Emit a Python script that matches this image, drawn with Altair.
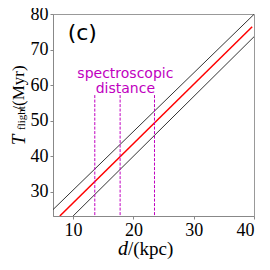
import altair as alt
import pandas as pd

# Line endpoints (d in kpc, T in Myr)
d_upper = [6.67, 40.0]
t_upper = [25.0, 79.9]
d_center = [7.8, 39.7]
t_center = [23.2, 76.4]
d_lower = [10.0, 40.0]
t_lower = [23.2, 73.6]

# Spectroscopic distance markers
spec_d = [13.6, 17.8, 23.5]
spec_top = 57.2

x_ticks = [10, 15, 20, 25, 30, 35, 40]
y_ticks = [30, 40, 50, 60, 70, 80]
x_domain = [6.67, 40]
y_domain = [23.2, 80]

black_df = pd.DataFrame({
    "d": d_upper + d_lower,
    "T": t_upper + t_lower,
    "s": ["upper"] * 2 + ["lower"] * 2,
})
red_df = pd.DataFrame({"d": d_center, "T": t_center})
spec_df = pd.DataFrame({"d": spec_d, "top": [spec_top] * 3, "bot": [y_domain[0]] * 3})
label_df = pd.DataFrame({"d": [18.67, 18.67], "T": [62.0, 57.8], "txt": ["spectroscopic", "distance"]})
panel_df = pd.DataFrame({"d": [9.1], "T": [74.6], "txt": ["(c)"]})
one = pd.DataFrame({"a": [0]})

xs = alt.Scale(domain=x_domain, nice=False, zero=False)
ys = alt.Scale(domain=y_domain, nice=False, zero=False)
xax = alt.Axis(values=x_ticks, title=None, grid=False)
yax = alt.Axis(values=y_ticks, title=None, grid=False)

black = alt.Chart(black_df).mark_line(color="#333333", strokeWidth=1, clip=True).encode(
    x=alt.X("d:Q", scale=xs, axis=xax),
    y=alt.Y("T:Q", scale=ys, axis=yax),
    detail="s:N",
)
red = alt.Chart(red_df).mark_line(color="#ff0000", strokeWidth=1.5, clip=True).encode(
    x=alt.X("d:Q", scale=xs), y=alt.Y("T:Q", scale=ys)
)
spec = alt.Chart(spec_df).mark_rule(color="#c000c0", strokeWidth=1, strokeDash=[3, 1.5]).encode(
    x=alt.X("d:Q", scale=xs), y=alt.Y("top:Q", scale=ys), y2="bot:Q"
)
labels = alt.Chart(label_df).mark_text(
    font="DejaVu Sans", fontSize=14, color="#c000c0", align="center", baseline="alphabetic"
).encode(x=alt.X("d:Q", scale=xs), y=alt.Y("T:Q", scale=ys), text="txt:N")
panel = alt.Chart(panel_df).mark_text(
    font="DejaVu Sans", fontSize=22, color="black", align="left", baseline="middle"
).encode(x=alt.X("d:Q", scale=xs), y=alt.Y("T:Q", scale=ys), text="txt:N")

serif = "Liberation Serif"
yt1 = alt.Chart(one).mark_text(text="T", font=serif, fontStyle="italic", fontSize=19, angle=270,
                               align="center", baseline="middle", color="black").encode(
    x=alt.value(-34), y=alt.value(126))
yt2 = alt.Chart(one).mark_text(text="flight", font=serif, fontSize=11, angle=270,
                               align="center", baseline="middle", color="black").encode(
    x=alt.value(-31), y=alt.value(104))
yt3 = alt.Chart(one).mark_text(text="/(Myr)", font=serif, fontSize=17, angle=270,
                               align="center", baseline="middle", color="black").encode(
    x=alt.value(-34), y=alt.value(74))
xt1 = alt.Chart(one).mark_text(text="d", font=serif, fontStyle="italic", fontSize=20,
                               align="center", baseline="middle", color="black").encode(
    x=alt.value(70), y=alt.value(235))
xt2 = alt.Chart(one).mark_text(text="/(kpc)", font=serif, fontSize=19,
                               align="left", baseline="middle", color="black").encode(
    x=alt.value(75), y=alt.value(235))

chart = alt.layer(black, red, spec, labels, panel, yt1, yt2, yt3, xt1, xt2).properties(
    width=201, height=202,
    autosize=alt.AutoSizeParams(type="none"),
    padding={"left": 45, "top": 6, "right": 8, "bottom": 46},
).configure_view(stroke="#999999", strokeWidth=1).configure_axis(
    labelFont=serif, labelFontSize=18, labelColor="black",
    domainColor="#888888", tickColor="#888888", tickSize=3, labelPadding=2,
)

chart.save("out.html", embed_options={"renderer": "svg", "actions": False})
